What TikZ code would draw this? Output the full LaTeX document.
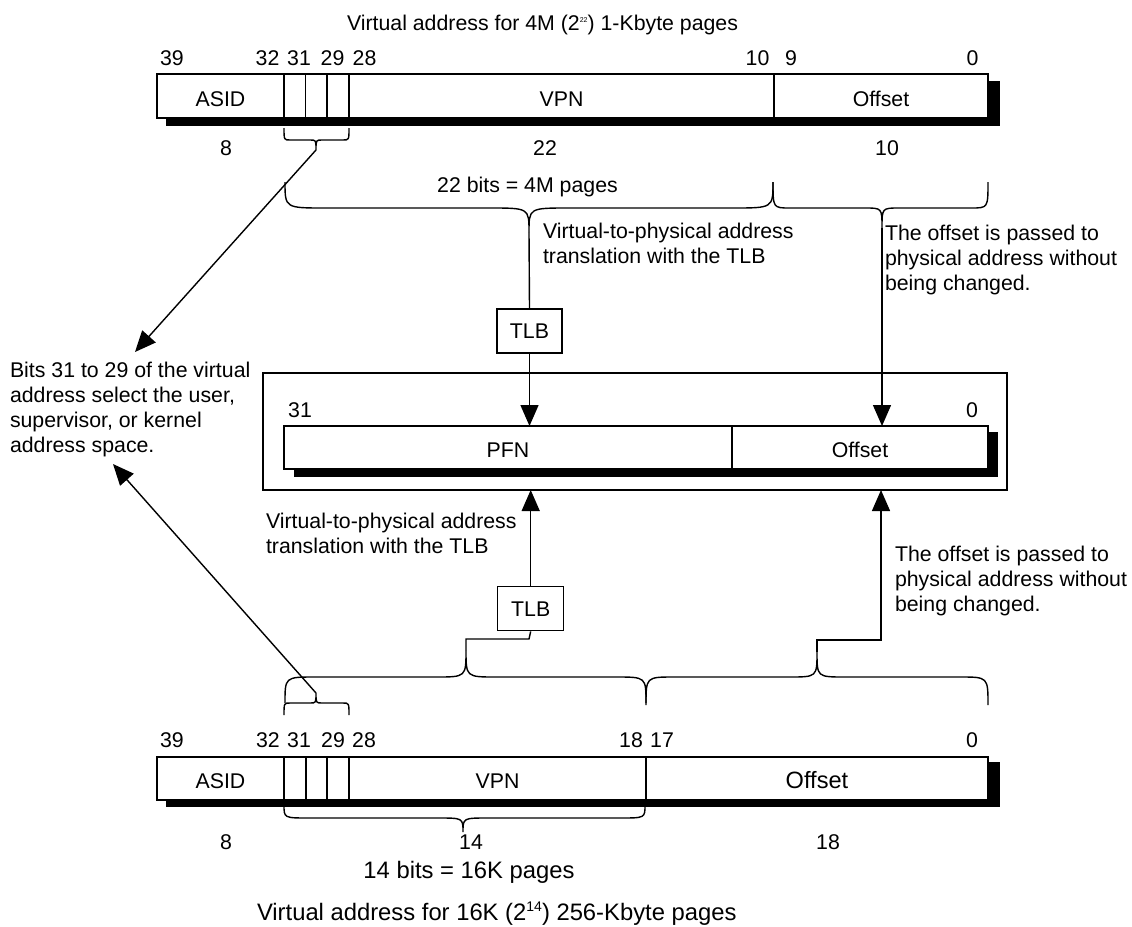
\documentclass[tikz,border=0pt]{standalone}
\usepackage{fontspec}
\setmainfont{Liberation Sans}
\usetikzlibrary{arrows.meta,calc}
\newcommand\mybrace[7]{%
  \draw[ln] (#1,#4) .. controls (#1,#5) .. (#1+#7,#5) -- (#3-#7,#5)
    .. controls (#3,#5) .. (#3,#6) .. controls (#3,#5) .. (#3+#7,#5)
    -- (#2-#7,#5) .. controls (#2,#5) .. (#2,#4);}
\begin{document}
\begin{tikzpicture}[x=1pt,y=-1pt,
  ln/.style={line width=1.4pt},
  fld/.style={draw, line width=1.4pt, fill=white, inner sep=0pt, outer sep=0pt,
    anchor=north west, text height=20pt, text depth=0pt,
    font=\fontsize{21.3}{25}\selectfont},
  txt/.style={inner sep=0pt, outer sep=0pt, font=\fontsize{21.3}{25}\selectfont},
  big/.style={inner sep=0pt, outer sep=0pt, font=\fontsize{23.8}{28}\selectfont},
  para/.style={txt, align=left, anchor=north west},
  arr/.style={line width=1.4pt, -{Triangle[length=21pt,width=18pt]}},
  shadowbar/.style={fill=black}]
\useasboundingbox (0,0) rectangle (1132,926);

% ---------- top register ----------
\node[txt, anchor=base] (ttitle) at (542.5,30)
  {Virtual address for 4M (2\raisebox{8pt}{\fontsize{7}{7}\selectfont 22}) 1-Kbyte pages};
\fill[shadowbar] (166,81) rectangle (1000,126);
\node[fld, minimum width=127pt, minimum height=44pt] (tasid) at (157,74) {ASID};
\node[fld, minimum width=21.5pt, minimum height=44pt] (tb31) at (284,74) {};
\node[fld, minimum width=21.5pt, minimum height=44pt] (tb30) at (305.5,74) {};
\node[fld, minimum width=22pt, minimum height=44pt] (tb29) at (327,74) {};
\node[fld, minimum width=425pt, minimum height=44pt] (tvpn) at (349,74) {VPN};
\node[fld, minimum width=214pt, minimum height=44pt] (toff) at (774,74) {Offset};
\foreach \n/\x/\t in {n39/172/39,n32/267.5/32,n31/299/31,n29/332.5/29,n28/364.5/28,n10/757.5/10,n9/791/9,n0/972.5/0}
  \node[txt, anchor=base] (t\n) at (\x,65) {\t};
\node[txt, anchor=base] (tw8) at (226,155.5) {8};
\node[txt, anchor=base] (tw22) at (545,155.5) {22};
\node[txt, anchor=base] (tw10) at (887,155) {10};
\node[txt, anchor=base] (t22bits) at (527.5,192) {22 bits = 4M pages};

% braces (top)
\mybrace{284}{349}{316}{128}{140}{150}{6}
\coordinate (tipA) at (316,150);
\mybrace{285}{773}{529}{182}{208}{232}{40}
\coordinate (tipB) at (529,232);
\mybrace{773}{988}{882}{182}{208}{228}{17}
\coordinate (tipC) at (882,228);

\node[para] (ttrans) at (543,222.7) {Virtual-to-physical address\\translation with the TLB};
\node[para] (toffnote) at (885,224.7) {The offset is passed to\\physical address without\\being changed.};
\node[draw, line width=1.4pt, txt, minimum width=65pt, minimum height=44pt, anchor=north west] (tlbA) at (497,309) {};
\node[txt] (tlbAt) at (tlbA.center) {TLB};

% ---------- physical register ----------
\node[draw, line width=1.4pt, inner sep=0pt, outer sep=0pt, anchor=north west,
  minimum width=744pt, minimum height=117pt] (phys) at (263,373) {};
\fill[shadowbar] (294,432) rectangle (998,477);
\node[fld, minimum width=448pt, minimum height=43pt] (pfn) at (284,426) {PFN};
\node[fld, minimum width=256pt, minimum height=43pt] (poff) at (732,426) {Offset};
\node[txt, anchor=base] (p31) at (300,417) {31};
\node[txt, anchor=base] (p0) at (972,417) {0};

\draw[ln] (tipB) -- (tlbA.north);
\draw[arr] (tlbA.south) -- (tlbA.south |- pfn.north);
\draw[arr] (tipC) -- (tipC |- poff.north);

\node[para] (bitsnote) at (10,361.7) {Bits 31 to 29 of the virtual\\address select the user,\\supervisor, or kernel\\address space.};
\coordinate (bitsA) at (135,352);
\draw[arr] (tipA) -- (bitsA);

% ---------- lower part ----------
\node[para] (btrans) at (266,512.7) {Virtual-to-physical address\\translation with the TLB};
\node[para] (boffnote) at (895,545.7) {The offset is passed to\\physical address without\\being changed.};
\node[draw, line width=1.4pt, minimum width=66pt, minimum height=44pt, anchor=north west, inner sep=0pt] (tlbB) at (497,586) {};
\node[txt] (tlbBt) at (tlbB.center) {TLB};

\mybrace{285}{646}{466}{703}{677}{650}{30}
\coordinate (tipD) at (466,650);
\mybrace{646}{988}{817}{705}{677}{652}{28}
\coordinate (tipE) at (817,652);
\mybrace{284}{349}{316}{715}{703}{693}{6}
\coordinate (tipF) at (316,693);

\coordinate (jD) at (529,639);
\draw[ln] (tipD) |- (jD) -- (tlbB.south);
\draw[arr] (tlbB.north) -- (tlbB.north |- phys.south);
\coordinate (jE) at (881,640);
\draw[arr] (tipE) |- (jE) -- (jE |- phys.south);

\coordinate (bitsB) at (113,464);
\draw[arr] (tipF) -- (bitsB);

% lower register
\fill[shadowbar] (166,762) rectangle (1000,807);
\node[fld, minimum width=127pt, minimum height=43pt] (basid) at (157,757) {ASID};
\node[fld, minimum width=22pt, minimum height=43pt] (bb31) at (284,757) {};
\node[fld, minimum width=21pt, minimum height=43pt] (bb30) at (306,757) {};
\node[fld, minimum width=22pt, minimum height=43pt] (bb29) at (327,757) {};
\node[fld, minimum width=297pt, minimum height=43pt] (bvpn) at (349,757) {VPN};
\node[fld, minimum width=342pt, minimum height=43pt, font=\fontsize{23.6}{28}\selectfont] (boff) at (646,757) {Offset};
\foreach \n/\x/\t in {n39/172/39,n32/268/32,n31/299/31,n29/333/29,n28/364/28,n18/631/18,n17/662/17,n0/972/0}
  \node[txt, anchor=base] (b\n) at (\x,747) {\t};

\mybrace{284}{645}{463}{805}{818}{832}{25}
\coordinate (tipG) at (463,832);

\node[txt, anchor=base] (bw8) at (226,849) {8};
\node[txt, anchor=base] (bw14) at (471,849) {14};
\node[txt, anchor=base] (bw18) at (828,849) {18};
\node[big, anchor=base] (b14bits) at (469,878) {14 bits = 16K pages};
\node[big, anchor=base west] (btitle) at (257,920)
  {Virtual address for 16K (2\raisebox{9pt}{\fontsize{14}{14}\selectfont 14}) 256-Kbyte pages};
\end{tikzpicture}
\end{document}
